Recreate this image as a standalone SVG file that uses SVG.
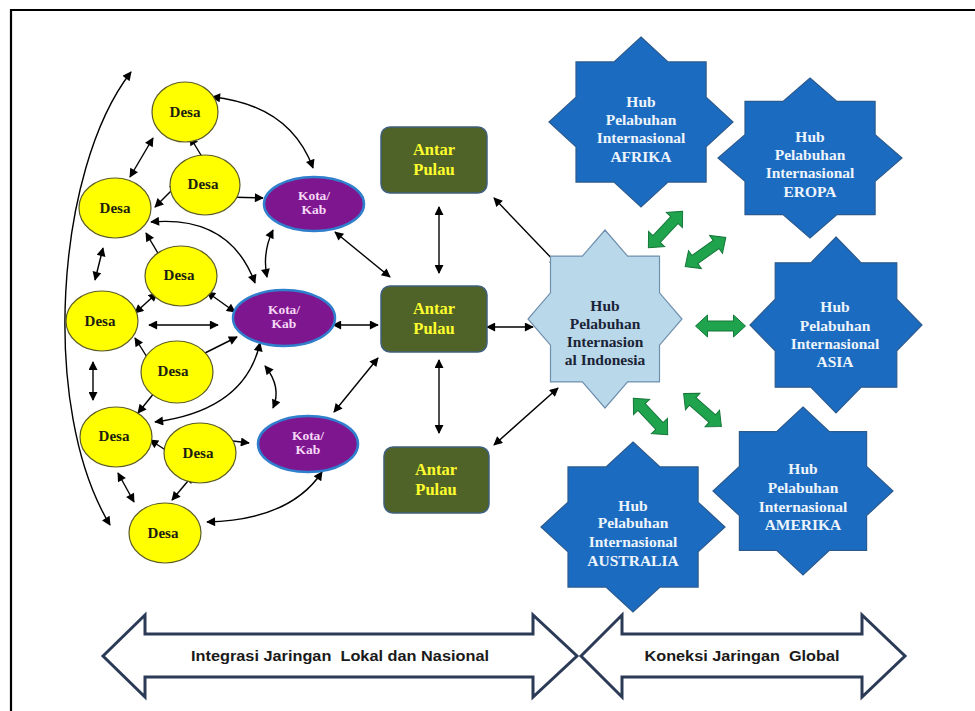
<svg xmlns="http://www.w3.org/2000/svg" xmlns:xlink="http://www.w3.org/1999/xlink" width="975" height="711" viewBox="0 0 975 711">
  <defs>
    <marker id="ah" viewBox="0 0 10 10" refX="9" refY="5" markerWidth="11" markerHeight="9" markerUnits="userSpaceOnUse" orient="auto-start-reverse">
      <path d="M0,0 L10,5 L0,10 Z" fill="#000"/>
    </marker>
    <!-- green block double arrow, centred on the origin, pointing along x -->
    <path id="garrow" d="M-25,0 L-13,-11 L-13,-5 L13,-5 L13,-11 L25,0 L13,11 L13,5 L-13,5 L-13,11 Z"/>
    <style>
      .desa ellipse { fill: #ffff00; stroke: #5c5c28; stroke-width: 1.2; }
      .desa text { font-family: "Liberation Serif", serif; font-weight: bold; font-size: 15px; fill: #1c1c10; text-anchor: middle; }
      .kota ellipse { fill: #7e1690; stroke: #2f7fcc; stroke-width: 2.5; }
      .kota text { font-family: "Liberation Serif", serif; font-weight: bold; font-size: 13.5px; fill: #f6d8f6; text-anchor: middle; }
      .antar rect { fill: #4f6228; stroke: #40607e; stroke-width: 1.5; }
      .antar text { font-family: "Liberation Serif", serif; font-weight: bold; font-size: 16.5px; fill: #ffff2e; text-anchor: middle; }
      .hub polygon { fill: #1b6cc1; stroke: #2b5a8e; stroke-width: 1.2; }
      .hub text { font-family: "Liberation Serif", serif; font-weight: bold; font-size: 15.5px; fill: #eef4fb; text-anchor: middle; }
      .hubid polygon { fill: #b9d8ea; stroke: #6f8fae; stroke-width: 1.2; }
      .hubid text { font-family: "Liberation Serif", serif; font-weight: bold; font-size: 15.5px; fill: #1b2436; text-anchor: middle; }
      .link { fill: none; stroke: #000; stroke-width: 1.4; marker-start: url(#ah); marker-end: url(#ah); }
      .green use { fill: #1fa34c; stroke: #15773a; stroke-width: 1; }
      .band path { fill: #fff; stroke: #2b3a57; stroke-width: 3; stroke-linejoin: miter; }
      .band text { font-family: "Liberation Sans", sans-serif; font-weight: bold; font-size: 14px; fill: #1a1a1a; text-anchor: middle; white-space: pre; }
    </style>
  </defs>

  <rect width="975" height="711" fill="#fff"/>
  <!-- frame -->
  <polyline points="11,711 11,10 975,10" fill="none" stroke="#000" stroke-width="2.2"/>

  <!-- connectors -->
  <g id="connectors">
    <path class="link" d="M110,525 C40,410 55,170 131,72"/>
    <path class="link" d="M212,97 Q290,105 313,168"/>
    <path class="link" d="M190,137 L207,165"/>
    <path class="link" d="M153,138 L130,177"/>
    <path class="link" d="M178,184 L155,207"/>
    <path class="link" d="M225,197 L263,198"/>
    <path class="link" d="M273,230 Q262,253 267,277"/>
    <path class="link" d="M335,232 L390,277"/>
    <path class="link" d="M151,222 Q230,215 255,283"/>
    <path class="link" d="M146,233 L162,260"/>
    <path class="link" d="M103,248 L95,280"/>
    <path class="link" d="M207,292 L235,312"/>
    <path class="link" d="M157,293 L135,313"/>
    <path class="link" d="M149,325 L218,325"/>
    <path class="link" d="M333,325 L378,325"/>
    <path class="link" d="M135,338 L152,365"/>
    <path class="link" d="M237,337 L197,357"/>
    <path class="link" d="M260,343 Q245,410 155,422"/>
    <path class="link" d="M265,366 Q282,387 273,408"/>
    <path class="link" d="M93,362 L93,400"/>
    <path class="link" d="M163,382 L138,413"/>
    <path class="link" d="M334,412 L378,358"/>
    <path class="link" d="M150,440 L178,458"/>
    <path class="link" d="M217,439 L249,443"/>
    <path class="link" d="M118,473 L134,502"/>
    <path class="link" d="M193,475 L172,500"/>
    <path class="link" d="M207,522 Q290,520 322,472"/>
    <path class="link" d="M439,207 L439,273"/>
    <path class="link" d="M439,360 L439,433"/>
    <path class="link" d="M494,198 L558,265"/>
    <path class="link" d="M487,327 L533,327"/>
    <path class="link" d="M494,445 L558,388"/>
    <g class="green">
      <use xlink:href="#garrow" href="#garrow" transform="translate(665.5,229.5) rotate(-46.8)"/>
      <use xlink:href="#garrow" href="#garrow" transform="translate(705.5,252) rotate(-35.7)"/>
      <use xlink:href="#garrow" href="#garrow" transform="translate(720.5,326)"/>
      <use xlink:href="#garrow" href="#garrow" transform="translate(702.5,410) rotate(41)"/>
      <use xlink:href="#garrow" href="#garrow" transform="translate(650.5,416.5) rotate(46.6)"/>
    </g>
  </g>

  <!-- villages -->
  <g id="desa1" class="desa"><ellipse cx="185" cy="112" rx="33" ry="30"/><text x="185" y="117">Desa</text></g>
  <g id="desa2" class="desa"><ellipse cx="205" cy="185" rx="35" ry="30"/><text x="203" y="189">Desa</text></g>
  <g id="desa3" class="desa"><ellipse cx="115" cy="208" rx="36" ry="30"/><text x="115" y="213">Desa</text></g>
  <g id="desa4" class="desa"><ellipse cx="181" cy="276" rx="36" ry="30"/><text x="179" y="280">Desa</text></g>
  <g id="desa5" class="desa"><ellipse cx="102" cy="321" rx="36" ry="30"/><text x="100" y="326">Desa</text></g>
  <g id="desa6" class="desa"><ellipse cx="177" cy="372" rx="36" ry="31"/><text x="173" y="376">Desa</text></g>
  <g id="desa7" class="desa"><ellipse cx="116" cy="437" rx="36" ry="30"/><text x="114" y="441">Desa</text></g>
  <g id="desa8" class="desa"><ellipse cx="200" cy="453" rx="36" ry="30"/><text x="198" y="458">Desa</text></g>
  <g id="desa9" class="desa"><ellipse cx="165" cy="533" rx="36" ry="30"/><text x="163" y="538">Desa</text></g>

  <!-- towns -->
  <g id="kota1" class="kota"><ellipse cx="314" cy="204" rx="50" ry="27"/><text x="314" y="200">Kota/</text><text x="314" y="214">Kab</text></g>
  <g id="kota2" class="kota"><ellipse cx="284" cy="318" rx="51" ry="28"/><text x="284" y="314">Kota/</text><text x="284" y="328">Kab</text></g>
  <g id="kota3" class="kota"><ellipse cx="308" cy="444" rx="50" ry="28"/><text x="308" y="440">Kota/</text><text x="308" y="454">Kab</text></g>

  <!-- inter-island -->
  <g id="antar1" class="antar"><rect x="381" y="127" width="106" height="66" rx="9"/><text x="434" y="155">Antar</text><text x="434" y="175">Pulau</text></g>
  <g id="antar2" class="antar"><rect x="381" y="286" width="106" height="66" rx="9"/><text x="434" y="314">Antar</text><text x="434" y="334">Pulau</text></g>
  <g id="antar3" class="antar"><rect x="384" y="447" width="105" height="66" rx="9"/><text x="436" y="475">Antar</text><text x="436" y="495">Pulau</text></g>

  <!-- national hub -->
  <g id="hub-indonesia" class="hubid">
    <polygon points="605,230 627.6,256.1 659.5,256.1 659.5,292.9 682,319 659.5,345.1 659.5,381.9 627.6,381.9 605,408 582.4,381.9 550.5,381.9 550.5,345.1 528,319 550.5,292.9 550.5,256.1 582.4,256.1"/>
    <text x="605" y="311">Hub</text><text x="605" y="329">Pelabuhan</text><text x="605" y="347">Internasion</text><text x="605" y="365">al Indonesia</text>
  </g>

  <!-- international hubs -->
  <g id="hub-afrika" class="hub">
    <polygon points="641,37 668,61.9 706.1,61.9 706.1,97.1 733,122 706.1,146.9 706.1,182.1 668,182.1 641,207 614,182.1 576,182.1 576,146.9 549,122 576,97.1 576,61.9 614,61.9"/>
    <text x="641" y="107">Hub</text><text x="641" y="125">Pelabuhan</text><text x="641" y="143">Internasional</text><text x="641" y="162">AFRIKA</text>
  </g>
  <g id="hub-eropa" class="hub">
    <polygon points="810,78 837,101.4 875.1,101.4 875.1,134.6 902,158 875.1,181.4 875.1,214.6 837,214.6 810,238 783,214.6 745,214.6 745,181.4 718,158 745,134.6 745,101.4 783,101.4"/>
    <text x="810" y="142">Hub</text><text x="810" y="160">Pelabuhan</text><text x="810" y="178">Internasional</text><text x="810" y="197">EROPA</text>
  </g>
  <g id="hub-asia" class="hub">
    <polygon points="836,237 861.2,262.8 896.8,262.8 896.8,299.2 922,325 896.8,350.8 896.8,387.2 861.2,387.2 836,413 810.8,387.2 775.2,387.2 775.2,350.8 750,325 775.2,299.2 775.2,262.8 810.8,262.8"/>
    <text x="835" y="312">Hub</text><text x="835" y="331">Pelabuhan</text><text x="835" y="349">Internasional</text><text x="835" y="367">ASIA</text>
  </g>
  <g id="hub-amerika" class="hub">
    <polygon points="803,407 829.4,431.6 866.6,431.6 866.6,466.4 893,491 866.6,515.6 866.6,550.4 829.4,550.4 803,575 776.6,550.4 739.4,550.4 739.4,515.6 713,491 739.4,466.4 739.4,431.6 776.6,431.6"/>
    <text x="803" y="474">Hub</text><text x="803" y="493">Pelabuhan</text><text x="803" y="512">Internasional</text><text x="803" y="530">AMERIKA</text>
  </g>
  <g id="hub-australia" class="hub">
    <polygon points="633,442 660,466.9 698.1,466.9 698.1,502.1 725,527 698.1,551.9 698.1,587.1 660,587.1 633,612 606,587.1 568,587.1 568,551.9 541,527 568,502.1 568,466.9 606,466.9"/>
    <text x="633" y="511">Hub</text><text x="633" y="528">Pelabuhan</text><text x="633" y="547">Internasional</text><text x="633" y="566">AUSTRALIA</text>
  </g>

  <!-- scope bands -->
  <g id="band-lokal" class="band">
    <path d="M103,656 L145,615 L145,634 L533,634 L533,615 L577,656 L533,697 L533,677 L145,677 L145,697 Z"/>
    <text x="340" y="661" textLength="298" lengthAdjust="spacingAndGlyphs">Integrasi Jaringan  Lokal dan Nasional</text>
  </g>
  <g id="band-global" class="band">
    <path d="M581,656 L622,615 L622,634 L862,634 L862,615 L905,656 L862,697 L862,677 L622,677 L622,697 Z"/>
    <text x="742" y="661" textLength="195" lengthAdjust="spacingAndGlyphs">Koneksi Jaringan  Global</text>
  </g>
</svg>
